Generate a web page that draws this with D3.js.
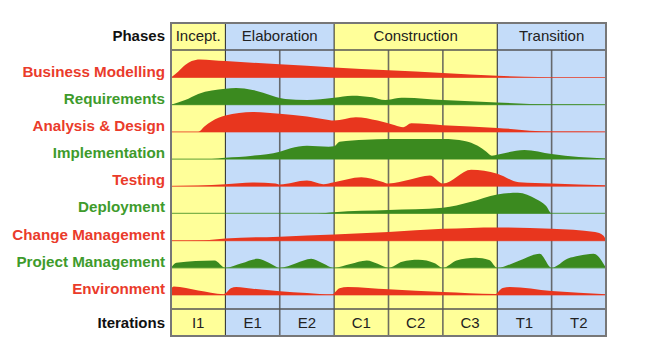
<!DOCTYPE html>
<html><head><meta charset="utf-8">
<script src="https://cdn.jsdelivr.net/npm/d3@7"></script>
<style>body{margin:0;background:#fff}svg{display:block}text{font-family:"Liberation Sans",Arial,sans-serif}</style>
</head><body><svg id="c" width="658" height="352"></svg>
<script>
// ---- data ----
const phases = ["Incept.", "Elaboration", "Construction", "Transition"];
const phaseSpans = [1, 2, 3, 2];          // iterations per phase
const iterations = ["I1", "E1", "E2", "C1", "C2", "C3", "T1", "T2"];
const workflows = ["Business Modelling", "Requirements", "Analysis & Design", "Implementation",
  "Testing", "Deployment", "Change Management", "Project Management", "Environment"];
const workflowColor = ["red", "green", "red", "green", "red", "green", "red", "green", "red"];
// effort profiles: [time in iterations, effort 0-100]
const businessModelling = [[0,0],[0.13,27],[0.26,59],[0.38,78],[0.53,86],[1,78],[2,63],[3,48],[4,35],[5,22],[6,8],[6.5,3],[7,1],[8,1]];
const requirements = [[0,0],[0.26,22],[0.5,51],[1,76],[1.2,79],[1.5,70],[1.86,43],[2,32],[2.1,27],[2.5,22],[3,33],[3.33,43],[3.7,35],[3.94,22],[4.18,32],[4.3,33],[5,22],[6,10],[7,1.5],[8,1]];
const analysisDesign = [[0,0],[0.5,0],[0.62,27],[0.75,51],[1,78],[1.5,95],[2,86],[2.5,73],[2.9,57],[3,54],[3.4,70],[3.8,54],[4.12,32],[4.27,22],[4.42,41],[5,32],[6,19],[7,1.5],[8,1]];
const implementation = [[0,0],[0.75,0],[1,6],[1.5,16],[2,35],[2.2,51],[2.5,63],[2.9,59],[3,61],[3.1,82],[3.57,92],[4,95],[5,95],[5.4,86],[5.64,63],[5.8,35],[5.9,16],[6.02,22],[6.5,43],[7,24],[7.5,10],[8,3]];
const testing = [[0,1],[0.5,3],[1,10],[1.5,18],[1.92,13],[2,8],[2.5,27],[2.8,10],[3,19],[3.5,43],[3.88,22],[4,13],[4.4,32],[4.76,51],[5,13],[5.52,79],[6,60],[6.4,19],[7,13],[8,5]];
const deployment = [[0,0],[2.7,0],[3,6],[4,16],[5,27],[5.5,54],[6,90],[6.38,98],[6.72,67],[6.9,35],[7,0],[8,0]];
const changeManagement = [[0,1],[0.6,2],[1,10],[2,19],[3,29],[4,41],[5,56],[6,63],[7,57],[7.8,41],[7.95,25],[8,3]];
const projectManagement = [[0,0],[0.1,24],[0.8,35],[1,0],[1.3,22],[1.6,43],[1.8,24],[2,0],[2.3,22],[2.58,43],[2.77,24],[3,0],[3.3,18],[3.6,35],[3.8,19],[4,0],[4.25,29],[4.55,38],[4.85,22],[5,0],[5.25,35],[5.6,48],[5.85,37],[6,0],[6.4,34],[6.78,67],[7,0],[7.3,44],[7.5,57],[7.77,67],[8,0]];
const environment = [[0,30],[0.05,40],[0.5,21],[0.97,4],[1,8],[1.1,32],[1.2,38],[1.5,30],[2,18],[2.5,10],[2.97,3],[3.02,14],[3.1,32],[3.25,38],[4,27],[5,14],[5.97,5],[6.02,16],[6.1,33],[6.23,38],[7,19],[8,3]];
const profiles = [businessModelling, requirements, analysisDesign, implementation, testing,
  deployment, changeManagement, projectManagement, environment];

// ---- layout ----
const L = 171, R = 606, TOP = 23, HB = 50, IT = 309, BOT = 336;
const fill = {red: "#e8361e", green: "#3b8a1f"};
const labelCol = {red: "#ea3b2b", green: "#3e9b2c"};
const bg = ["#ffff99", "#c4dcf9", "#ffff99", "#c4dcf9"];

const svg = d3.select("#c");
const x = d3.scaleLinear().domain([0, iterations.length]).range([L, R]);
const yBase = d3.scalePoint().domain(workflows).range([77.5, 295]);
const h = d3.scaleLinear().domain([0, 100]).range([0, 21]);

// phase backgrounds
let start = 0;
const phaseStart = phaseSpans.map(s => { const v = start; start += s; return v; });
svg.append("g").selectAll("rect").data(phases).join("rect")
  .attr("x", (d, i) => x(phaseStart[i])).attr("y", TOP)
  .attr("width", (d, i) => x(phaseStart[i] + phaseSpans[i]) - x(phaseStart[i]))
  .attr("height", BOT - TOP).attr("fill", (d, i) => bg[i]);

// grid lines (under the effort areas)
const g = svg.append("g");
const phaseBounds = phaseStart.slice(1);
d3.range(1, iterations.length).forEach(k => {
  const isPhase = phaseBounds.includes(k);
  g.append("line").attr("x1", x(k)).attr("x2", x(k))
    .attr("y1", isPhase ? TOP : HB).attr("y2", BOT)
    .attr("stroke", isPhase ? "#111" : "#555").attr("stroke-width", isPhase ? 1 : 1.6)
    .attr("stroke-opacity", isPhase ? 0.9 : 0.85);
});
[HB, IT].forEach(yy => g.append("line").attr("x1", L).attr("x2", R).attr("y1", yy).attr("y2", yy)
  .attr("stroke", "#555").attr("stroke-width", 1.6));

// baselines and areas
const area = d3.area().x(d => x(d[0])).y1(d => 0 - h(d[1])).y0(0).curve(d3.curveMonotoneX);
const rows = svg.append("g").selectAll("g").data(workflows).join("g")
  .attr("transform", d => `translate(0,${yBase(d)})`);
rows.append("line").attr("x1", L).attr("x2", R).attr("y1", 0).attr("y2", 0)
  .attr("stroke", (d, i) => fill[workflowColor[i]]).attr("stroke-opacity", 0.65).attr("stroke-width", 1.2);
rows.append("path").attr("d", (d, i) => area(profiles[i]))
  .attr("fill", (d, i) => fill[workflowColor[i]]);

// outer border
svg.append("rect").attr("x", L).attr("y", TOP).attr("width", R - L).attr("height", BOT - TOP)
  .attr("fill", "none").attr("stroke", "#777").attr("stroke-width", 2);

// labels
svg.append("g").selectAll("text").data(workflows).join("text")
  .attr("x", 165).attr("y", d => yBase(d) - 1).attr("text-anchor", "end")
  .attr("font-size", 15.2).attr("font-weight", "bold")
  .attr("fill", (d, i) => labelCol[workflowColor[i]]).text(d => d);

// header texts
svg.append("text").attr("x", 165).attr("y", 41).attr("text-anchor", "end")
  .attr("font-size", 15).attr("font-weight", "bold").attr("fill", "#111").text("Phases");
svg.append("g").selectAll("text").data(phases).join("text")
  .attr("x", (d, i) => x(phaseStart[i] + phaseSpans[i] / 2)).attr("y", 41)
  .attr("text-anchor", "middle").attr("font-size", 15).attr("fill", "#222").text(d => d);
svg.append("text").attr("x", 165).attr("y", 328).attr("text-anchor", "end")
  .attr("font-size", 15).attr("font-weight", "bold").attr("fill", "#111").text("Iterations");
svg.append("g").selectAll("text").data(iterations).join("text")
  .attr("x", (d, i) => x(i + 0.5)).attr("y", 328)
  .attr("text-anchor", "middle").attr("font-size", 15).attr("fill", "#222").text(d => d);
</script></body></html>
